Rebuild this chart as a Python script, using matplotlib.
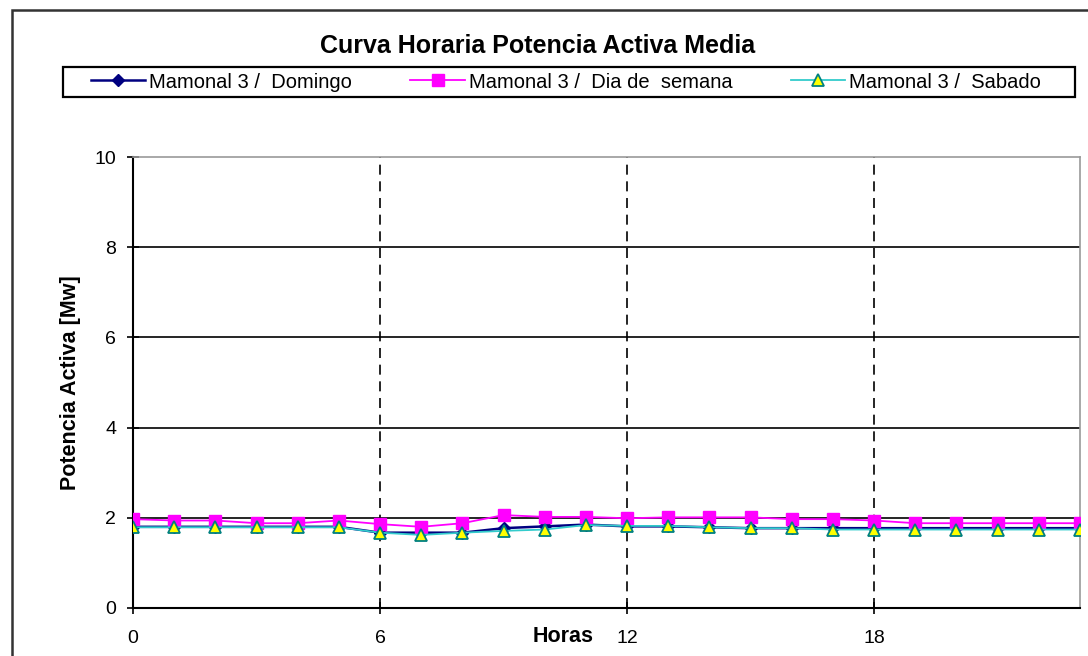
import matplotlib.pyplot as plt
import matplotlib as mpl
from matplotlib.patches import Rectangle

mpl.rcParams['font.family'] = ['Liberation Sans', 'DejaVu Sans']

# hourly values
horas = list(range(24))
domingo = [1.80, 1.80, 1.80, 1.80, 1.80, 1.80, 1.67, 1.67, 1.67, 1.77, 1.81, 1.85,
           1.81, 1.81, 1.79, 1.77, 1.77, 1.77, 1.77, 1.77, 1.77, 1.77, 1.77, 1.77]
semana = [1.97, 1.94, 1.94, 1.88, 1.88, 1.94, 1.86, 1.80, 1.88, 2.06, 2.02, 2.02,
          1.99, 2.01, 2.01, 2.01, 1.97, 1.97, 1.94, 1.88, 1.88, 1.88, 1.88, 1.88]
sabado = [1.79, 1.79, 1.79, 1.79, 1.79, 1.79, 1.67, 1.62, 1.67, 1.71, 1.74, 1.84,
          1.82, 1.82, 1.79, 1.77, 1.77, 1.74, 1.74, 1.74, 1.74, 1.74, 1.74, 1.74]

fig = plt.figure(figsize=(10.88, 6.56), dpi=100)
ax = fig.add_axes([133 / 1088, 1 - 608 / 656, (1080 - 133) / 1088, (608 - 157) / 656])

# outer chart frame
fig.patches.append(Rectangle((12 / 1088, -0.1), 1.2, 1 - 10 / 656 + 0.1,
                             transform=fig.transFigure, fill=False,
                             edgecolor='#333333', linewidth=1.8))
# legend box
fig.patches.append(Rectangle((63 / 1088, 1 - 97 / 656), 1012 / 1088, 30 / 656,
                             transform=fig.transFigure, fill=False,
                             edgecolor='black', linewidth=1.6))

ax.plot(horas, domingo, color='#000080', linewidth=1.8, marker='D',
        markersize=6, markerfacecolor='#000080', label='Mamonal 3 /  Domingo', zorder=3)
ax.plot(horas, semana, color='#ff00ff', linewidth=1.3, marker='s',
        markersize=9, markerfacecolor='#ff00ff', markeredgecolor='#ff00ff',
        label='Mamonal 3 /  Dia de  semana', zorder=4)
ax.plot(horas, sabado, color='#33cccc', linewidth=1.3, marker='^',
        markersize=9, markerfacecolor='#ffff00', markeredgecolor='#008080',
        markeredgewidth=1.3, label='Mamonal 3 /  Sabado', zorder=5)

ax.set_xlim(0, 23)
ax.set_ylim(0, 10)
ax.set_xticks([0, 6, 12, 18])
ax.set_yticks([0, 2, 4, 6, 8, 10])
ax.tick_params(direction='inout', length=8, width=1.2, labelsize=14)
ax.tick_params(axis='x', pad=12)
ax.tick_params(axis='y', pad=8)

for y in [2, 4, 6, 8]:
    ax.axhline(y, color='black', linewidth=1.2, zorder=1)
for x in [6, 12, 18]:
    ax.axvline(x, color='black', linewidth=1.2, linestyle=(0, (6, 4)), zorder=1)

for side in ['left', 'bottom']:
    ax.spines[side].set_linewidth(1.5)
    ax.spines[side].set_color('black')
for side in ['top', 'right']:
    ax.spines[side].set_linewidth(1.2)
    ax.spines[side].set_color('#999999')

ax.set_ylabel('Potencia Activa [Mw]', fontsize=15.5, fontweight='bold', labelpad=10)
fig.text(563 / 1088, 1 - 636 / 656, 'Horas', fontsize=15.5, fontweight='bold',
         ha='center', va='center')

fig.text(538 / 1088, 1 - 46 / 656, 'Curva Horaria Potencia Activa Media', fontsize=18,
         fontweight='bold', ha='center', va='center')

leg = fig.legend(loc='center', bbox_to_anchor=(566 / 1088, 1 - 82 / 656), ncol=3,
                 frameon=False, fontsize=14.5, handlelength=2.7,
                 handletextpad=0.2, columnspacing=2.9, borderpad=0.3)

fig.savefig('out.png', dpi=100)
